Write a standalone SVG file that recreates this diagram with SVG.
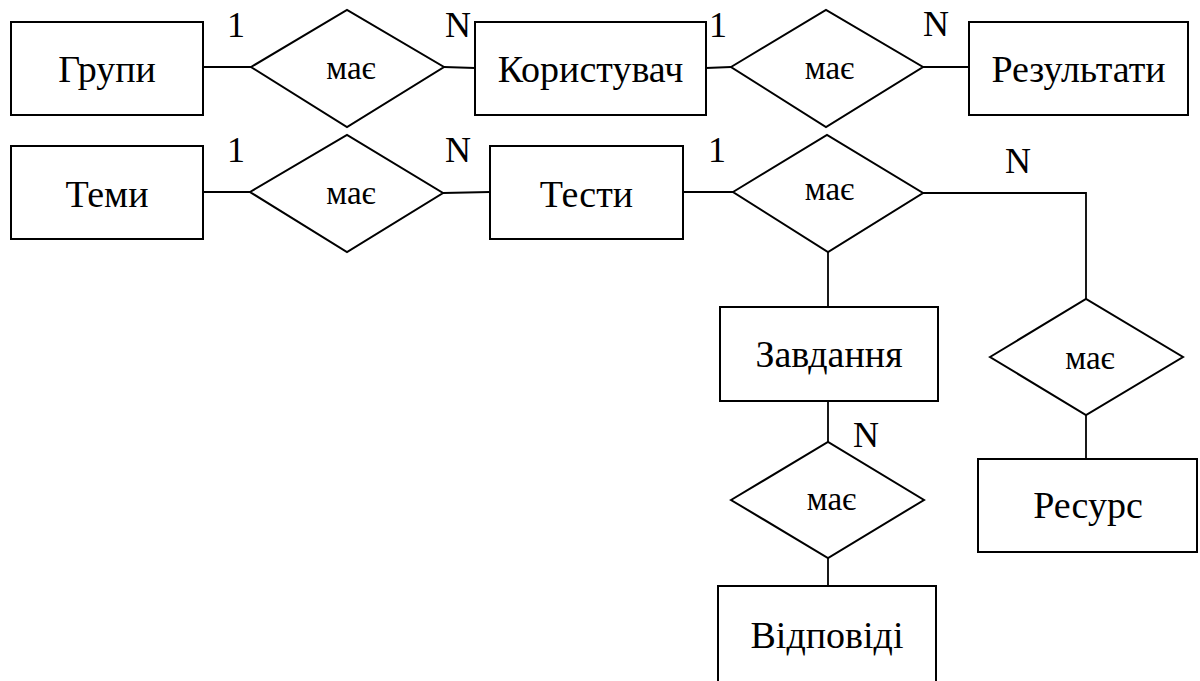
<svg xmlns="http://www.w3.org/2000/svg" width="1200" height="681" viewBox="0 0 1200 681">
<defs>
<style>
.ent{fill:#fff;stroke:#000;stroke-width:2}
.rel{fill:#fff;stroke:#000;stroke-width:2}
#connectors path{fill:none;stroke:#000;stroke-width:1.8}
.lbl{font-family:'Liberation Serif',serif;font-size:38px;text-anchor:middle;fill:#000}
.rl{font-family:'Liberation Serif',serif;font-size:33px;text-anchor:middle;fill:#000}
.card{font-family:'Liberation Serif',serif;font-size:36px;fill:#000}
</style>
</defs>
<rect width="1200" height="681" fill="#fff"/>
<g id="connectors">
<path d="M203,67 L251,67"/>
<path d="M444,67 L475,68"/>
<path d="M706,68 L731,67"/>
<path d="M923,67 L969,67"/>
<path d="M203,192 L250,192"/>
<path d="M443,193 L490,192"/>
<path d="M683,192 L733,192"/>
<path d="M923,193 L1086,193 L1086,299"/>
<path d="M828,252 L828,307"/>
<path d="M828,401 L828,442"/>
<path d="M828,558 L828,586"/>
<path d="M1086,415 L1086,459"/>
</g>
<g id="grupy"><rect class="ent" x="11" y="22" width="192" height="93"/><text class="lbl" x="107" y="82">Групи</text></g>
<g id="korystuvach"><rect class="ent" x="475" y="22" width="231" height="93"/><text class="lbl" x="590.5" y="82">Користувач</text></g>
<g id="rezultaty"><rect class="ent" x="969" y="22" width="219" height="93"/><text class="lbl" x="1078.5" y="82">Результати</text></g>
<g id="temy"><rect class="ent" x="11" y="146" width="192" height="93"/><text class="lbl" x="107" y="207">Теми</text></g>
<g id="testy"><rect class="ent" x="490" y="146" width="193" height="93"/><text class="lbl" x="586.5" y="207">Тести</text></g>
<g id="zavdannia"><rect class="ent" x="720" y="307" width="218" height="94"/><text class="lbl" x="829" y="367">Завдання</text></g>
<g id="resurs"><rect class="ent" x="978" y="459" width="219" height="93"/><text class="lbl" x="1088" y="518">Ресурс</text></g>
<g id="vidpovidi"><rect class="ent" x="718" y="586" width="218" height="130"/><text class="lbl" x="827" y="648">Відповіді</text></g>
<g id="rel1"><polygon class="rel" points="251,67 347,10 444,67 347,127"/><text class="rl" x="351" y="79">має</text></g>
<g id="rel2"><polygon class="rel" points="250,192 347,135 443,193 347,252"/><text class="rl" x="351" y="204">має</text></g>
<g id="rel3"><polygon class="rel" points="731,67 826,10 923,67 826,127"/><text class="rl" x="829.5" y="79">має</text></g>
<g id="rel4"><polygon class="rel" points="733,192 827,135 923,193 828,252"/><text class="rl" x="829.5" y="200">має</text></g>
<g id="rel5"><polygon class="rel" points="731,500 828,442 924,500 828,558"/><text class="rl" x="831.5" y="510">має</text></g>
<g id="rel6"><polygon class="rel" points="990,357 1086,299 1183,357 1086,415"/><text class="rl" x="1090" y="369">має</text></g>
<g id="cardinalities">
<text class="card" x="227" y="37">1</text>
<text class="card" x="445" y="37">N</text>
<text class="card" x="709" y="37">1</text>
<text class="card" x="923" y="36">N</text>
<text class="card" x="227" y="162">1</text>
<text class="card" x="445" y="162">N</text>
<text class="card" x="708" y="162">1</text>
<text class="card" x="1005" y="173">N</text>
<text class="card" x="853" y="447">N</text>
</g>
</svg>
